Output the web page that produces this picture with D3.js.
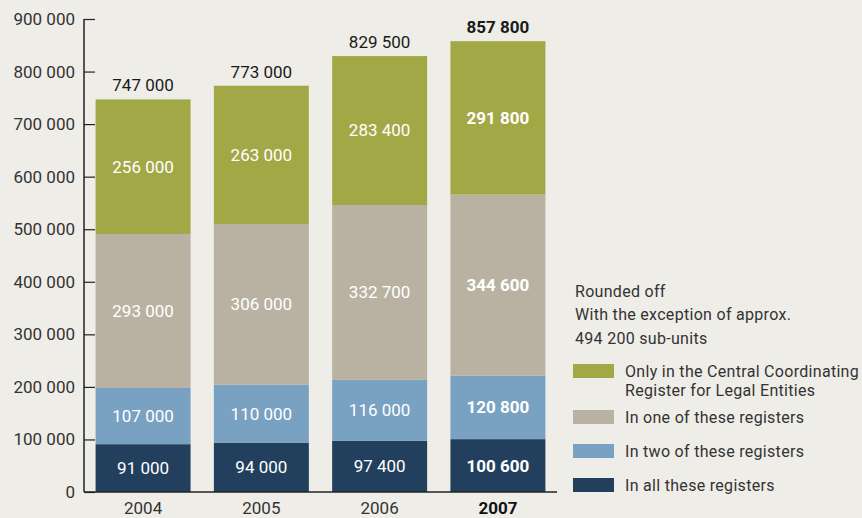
<!DOCTYPE html>
<html>
<head>
<meta charset="utf-8">
<script src="https://cdn.jsdelivr.net/npm/d3@7/dist/d3.min.js"></script>
<style>
  html, body { margin: 0; padding: 0; background: #efede8; }
  svg { display: block; }
  text { font-family: Roboto, "DejaVu Sans", sans-serif; }
</style>
</head>
<body>
<svg id="chart" width="862" height="518"></svg>
<script>
// Years on the x axis
const years = ["2004", "2005", "2006", "2007"];
// Series, stacked bottom to top
const allRegisters   = [91000, 94000, 97400, 100600];
const twoRegisters   = [107000, 110000, 116000, 120800];
const oneRegister    = [293000, 306000, 332700, 344600];
const onlyCentral    = [256000, 263000, 283400, 291800];
const totals         = [747000, 773000, 829500, 857800];
// Y axis ticks
const yTicks = [0, 100000, 200000, 300000, 400000, 500000, 600000, 700000, 800000, 900000];
// Legend and notes
const seriesNames = [
  ["Only in the Central Coordinating", "Register for Legal Entities"],
  ["In one of these registers"],
  ["In two of these registers"],
  ["In all these registers"]
];
const notes = ["Rounded off", "With the exception of approx.", "494 200 sub-units"];

const colors = ["#223f5e", "#79a1c1", "#b9b2a2", "#a3a847"];
const boldYear = "2007";

const svg = d3.select("#chart");
const fmt = v => d3.format(",")(v).replace(/,/g, " ");

const x = d3.scaleBand().domain(years).range([84, 557]).paddingInner(0.197).paddingOuter(0.098);
const y = d3.scaleLinear().domain([0, 900000]).range([492, 19]);

const series = [allRegisters, twoRegisters, oneRegister, onlyCentral];
const rows = years.map((yr, i) => {
  const o = { year: yr };
  series.forEach((s, k) => o["s" + k] = s[i]);
  return o;
});
const stack = d3.stack().keys(series.map((_, k) => "s" + k))(rows);

// Bars
const layers = svg.append("g").selectAll("g").data(stack).join("g")
  .attr("fill", (d, k) => colors[k]);
layers.selectAll("rect").data(d => d).join("rect")
  .attr("x", d => x(d.data.year))
  .attr("width", x.bandwidth())
  .attr("y", d => y(d[1]))
  .attr("height", d => y(d[0]) - y(d[1]));

// Segment value labels
layers.selectAll("text").data(d => d).join("text")
  .attr("x", d => x(d.data.year) + x.bandwidth() / 2)
  .attr("y", d => (y(d[0]) + y(d[1])) / 2)
  .attr("dy", "0.35em")
  .attr("text-anchor", "middle")
  .attr("fill", "#ffffff")
  .attr("font-size", 17)
  .attr("font-weight", d => d.data.year === boldYear ? 700 : 400)
  .text(d => fmt(d[1] - d[0]));

// Totals above bars
svg.append("g").selectAll("text").data(years).join("text")
  .attr("x", d => x(d) + x.bandwidth() / 2)
  .attr("y", (d, i) => y(totals[i]) - 14)
  .attr("dy", "0.35em")
  .attr("text-anchor", "middle")
  .attr("fill", "#1a1a1a")
  .attr("font-size", 17)
  .attr("font-weight", d => d === boldYear ? 700 : 400)
  .text((d, i) => fmt(totals[i]));

// Y axis
const yAxis = svg.append("g").attr("transform", "translate(84,0)")
  .call(d3.axisRight(y).tickValues(yTicks).tickSize(11).tickFormat(() => ""));
yAxis.select(".domain").remove();
yAxis.selectAll(".tick line").attr("stroke", "#222").attr("stroke-width", 1.2);
svg.append("line").attr("x1", 84).attr("x2", 84).attr("y1", y(900000)).attr("y2", y(0))
  .attr("stroke", "#222").attr("stroke-width", 1.5);
svg.append("g").selectAll("text").data(yTicks).join("text")
  .attr("x", 75)
  .attr("y", d => y(d))
  .attr("dy", "0.35em")
  .attr("text-anchor", "end")
  .attr("fill", "#333")
  .attr("font-size", 17)
  .text(d => fmt(d));

// X baseline and year labels
svg.append("line").attr("x1", 84).attr("x2", 557).attr("y1", y(0)).attr("y2", y(0))
  .attr("stroke", "#222").attr("stroke-width", 1.5);
svg.append("g").selectAll("text").data(years).join("text")
  .attr("x", d => x(d) + x.bandwidth() / 2)
  .attr("y", 508)
  .attr("dy", "0.35em")
  .attr("text-anchor", "middle")
  .attr("fill", d => d === boldYear ? "#111" : "#333")
  .attr("font-size", 17)
  .attr("font-weight", d => d === boldYear ? 700 : 400)
  .text(d => d);

// Notes
svg.append("g").selectAll("text").data(notes).join("text")
  .attr("x", 575)
  .attr("y", (d, i) => 291 + i * 23.5)
  .attr("dy", "0.35em")
  .attr("fill", "#333")
  .attr("font-size", 16)
  .attr("letter-spacing", 0.3)
  .text(d => d);

// Legend (top to bottom: olive, taupe, light blue, navy)
const legendY = [371, 417, 451, 485];
const lg = svg.append("g").selectAll("g").data(seriesNames).join("g")
  .attr("transform", (d, i) => `translate(573,${legendY[i]})`);
lg.append("rect").attr("x", 0).attr("y", -7).attr("width", 41).attr("height", 14)
  .attr("fill", (d, i) => colors[3 - i]);
lg.each(function(lines) {
  d3.select(this).selectAll("text").data(lines).join("text")
    .attr("x", 52)
    .attr("y", (d, j) => j * 19.5)
    .attr("dy", "0.35em")
    .attr("fill", "#333")
    .attr("font-size", 16)
    .attr("letter-spacing", 0.3)
    .text(d => d);
});
</script>
</body>
</html>
